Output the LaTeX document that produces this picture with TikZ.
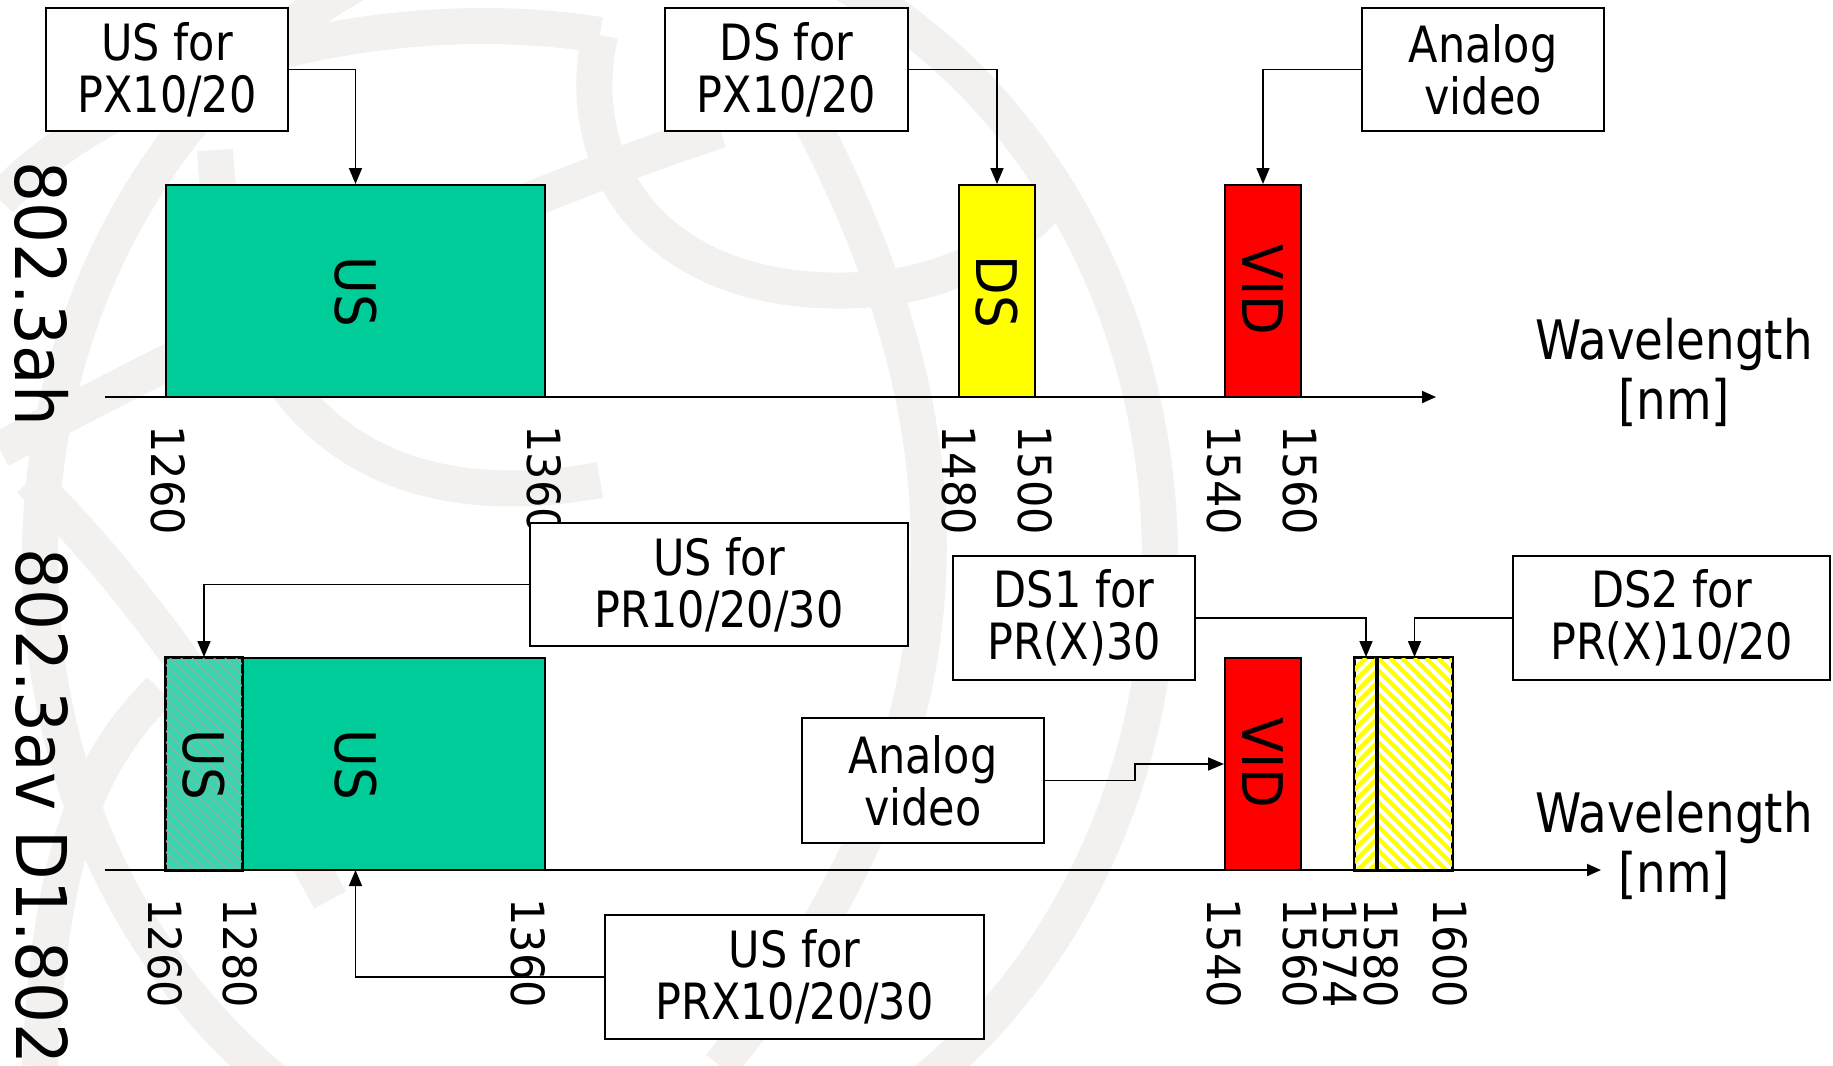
\documentclass[tikz,border=0pt]{standalone}
\usepackage{fontspec}
\setmainfont{DejaVu Sans}[FakeStretch=0.86]
\newfontfamily\tickfont{DejaVu Sans}[FakeStretch=0.94]
\newfontfamily\namefont{DejaVu Sans}[FakeStretch=0.92]
\usetikzlibrary{arrows.meta}
\definecolor{usgreen}{RGB}{0,204,153}
\definecolor{usgreenlt}{RGB}{56,214,174}
\definecolor{dsyellow}{RGB}{255,255,0}
\definecolor{vidred}{RGB}{255,0,0}
\definecolor{wmgray}{RGB}{242,241,239}
\definecolor{hatchgray}{RGB}{150,172,166}

\begin{document}
\begin{tikzpicture}[x=0.5pt,y=-0.5pt,
  band/.style={draw=black,line width=1pt,inner sep=0,minimum height=106pt},
  bandlabel/.style={rotate=-90,inner sep=0,font=\namefont\fontsize{28}{30}\selectfont},
  infobox/.style={draw=black,line width=1pt,fill=white,align=center,inner sep=0,
    font=\fontsize{25}{26}\selectfont},
  conn/.style={line width=0.8pt,-{Triangle[length=8pt,width=6.5pt]}},
  wlaxis/.style={line width=1pt,-{Triangle[length=7pt,width=6pt]}},
  ticklabel/.style={rotate=-90,anchor=west,inner sep=0,font=\tickfont\fontsize{22.9}{26}\selectfont},
  stdname/.style={rotate=-90,anchor=west,inner sep=0,font=\namefont\fontsize{35}{40}\selectfont},
  wavelabel/.style={align=center,inner sep=0,font=\fontsize{27.2}{30}\selectfont},
  wm/.style={wmgray,line width=18pt},
  ystripe/.style={dsyellow,line width=2.2pt},
  gstripe/.style={hatchgray,line width=0.7pt}
]
% page
\fill[white] (0,0) rectangle (1833,1066);
\useasboundingbox (0,0) rectangle (1833,1066);

% faint globe in the background
\begin{scope}
  \clip (0,0) rectangle (1833,1066);
  \draw[wm] (600,560) ellipse [x radius=560, y radius=640];
  \draw[wm] (0,200) .. controls (120,70) and (380,0) .. (600,35);
  \draw[wm] (600,35) .. controls (570,170) and (660,300) .. (860,290)
                     .. controls (960,285) and (1020,240) .. (1060,190);
  \draw[wm] (720,130) .. controls (480,210) and (220,330) .. (0,450);
  \draw[wm] (800,100) .. controls (950,380) and (1020,700) .. (720,1066);
  \draw[wm] (215,150) .. controls (230,420) and (380,520) .. (600,480);
  \draw[wm] (30,480) .. controls (150,600) and (250,750) .. (330,900);
  \draw[wm] (160,690) .. controls (90,760) and (50,850) .. (40,1066);
\end{scope}

% ---------- 802.3ah ----------
\node[band,fill=usgreen,minimum width=189.5pt] (usTop) at (355.5,291) {};
\node[band,fill=dsyellow,minimum width=38pt] (dsTop) at (997,291) {};
\node[band,fill=vidred,minimum width=38pt] (vidTop) at (1263,291) {};
\node[bandlabel] (usTopTxt) at (355.5,292) {US};
\node[bandlabel] (dsTopTxt) at (997,292) {DS};
\node[bandlabel] (vidTopTxt) at (1263,290) {VID};

\coordinate (axTopL) at (105,397);
\coordinate (axTopR) at (1436,397);
\draw[wlaxis] (axTopL) -- (axTopR);

\node[ticklabel] (t1) at (168,425) {1260};
\node[ticklabel] (t2) at (544,425) {1360};
\node[ticklabel] (t3) at (959,425) {1480};
\node[ticklabel] (t4) at (1035,425) {1500};
\node[ticklabel] (t5) at (1224,425) {1540};
\node[ticklabel] (t6) at (1300,425) {1560};

\node[wavelabel] (wlTop) at (1674,372) {Wavelength\\{}[nm]};
\node[stdname] (ahName) at (42,161) {802.3ah};

% ---------- 802.3av ----------
\node[band,fill=usgreen,minimum width=151.5pt] (usLow) at (393.5,764) {};
\node[band,fill=usgreenlt,minimum width=38pt] (usHatch) at (204,764) {};
\begin{scope}
  \clip (166,658) rectangle (242,870);
  \foreach \s in {-50,-39,...,250} \draw[gstripe] (\s,658) -- ++(212,212);
\end{scope}
\draw[line width=1pt] (usHatch.north west) rectangle (usHatch.south east);
\coordinate (usSpan) at (355.5,870);

\node[band,fill=vidred,minimum width=38pt] (vidLow) at (1263,764) {};

\node[band,fill=white,minimum width=11pt] (ds1) at (1366,764) {};
\node[band,fill=white,minimum width=37.5pt] (ds2) at (1414.5,764) {};
\begin{scope}
  \clip (1355,658) rectangle (1377,870);
  \foreach \s in {1130,1142,...,1390} \draw[ystripe] (\s,870) -- ++(212,-212);
\end{scope}
\begin{scope}
  \clip (1377,658) rectangle (1452,870);
  \foreach \s in {1150,1162,...,1460} \draw[ystripe] (\s,658) -- ++(212,212);
\end{scope}
\draw[line width=1pt] (ds1.north west) rectangle (ds1.south east);
\draw[line width=1pt] (ds2.north west) rectangle (ds2.south east);

\node[bandlabel] (usHatchTxt) at (204,765) {US};
\node[bandlabel] (usLowTxt) at (355.5,765) {US};
\node[bandlabel] (vidLowTxt) at (1263,763) {VID};

\coordinate (axLowL) at (105,870);
\coordinate (axLowR) at (1601,870);
\draw[wlaxis] (axLowL) -- (axLowR);

\node[ticklabel] (b1) at (165,898) {1260};
\node[ticklabel] (b2) at (240,898) {1280};
\node[ticklabel] (b3) at (528,898) {1360};
\node[ticklabel] (b4) at (1224,898) {1540};
\node[ticklabel] (b5) at (1300,898) {1560};
\node[ticklabel] (b6) at (1340,898) {1574};
\node[ticklabel] (b7) at (1381,898) {1580};
\node[ticklabel] (b8) at (1450,898) {1600};

\node[wavelabel] (wlLow) at (1674,845) {Wavelength\\{}[nm]};
\node[stdname] (avName) at (42,548) {802.3av D1.802};

% ---------- callout boxes ----------
\node[infobox,minimum width=121pt,minimum height=61.5pt] (usPX) at (167,69.5) {US for\\PX10/20};
\node[infobox,minimum width=121.5pt,minimum height=61.5pt] (dsPX) at (786.5,69.5) {DS for\\PX10/20};
\node[infobox,minimum width=121pt,minimum height=61.5pt] (avTop) at (1483,69.5) {Analog\\video};
\node[infobox,minimum width=189pt,minimum height=61.5pt] (usPR) at (719,584.5) {US for\\PR10/20/30};
\node[infobox,minimum width=189.5pt,minimum height=62pt] (usPRX) at (794.5,977) {US for\\PRX10/20/30};
\node[infobox,minimum width=121pt,minimum height=62pt] (ds1box) at (1074,618) {DS1 for\\PR(X)30};
\node[infobox,minimum width=158.5pt,minimum height=62pt] (ds2box) at (1671.5,618) {DS2 for\\PR(X)10/20};
\node[infobox,minimum width=121pt,minimum height=62.5pt] (avLow) at (923,780.5) {Analog\\video};

% ---------- connectors ----------
\draw[conn] (usPX.east) -| (usTop.north);
\draw[conn] (dsPX.east) -| (dsTop.north);
\draw[conn] (avTop.west) -| (vidTop.north);
\draw[conn] (usPR.west) -| (usHatch.north);
\draw[conn] (usPRX.west) -| (usSpan);
\draw[conn] (ds1box.east) -| (ds1.north);
\draw[conn] (ds2box.west) -| (ds2.north);
\draw[conn] (avLow.east) -- ++(90,0) |- (vidLow.west);
\end{tikzpicture}
\end{document}
